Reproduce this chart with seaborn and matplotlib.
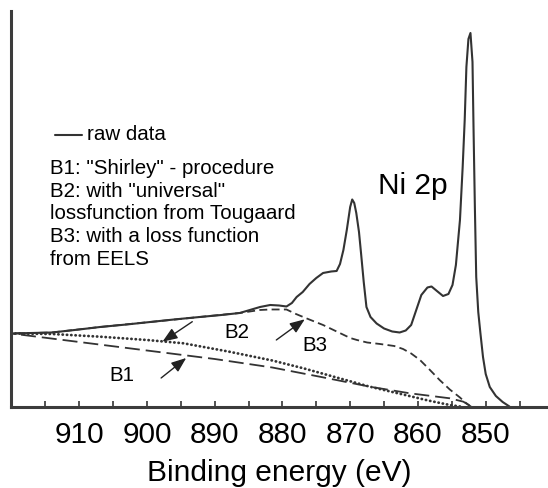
import matplotlib
matplotlib.use("Agg")
import matplotlib.pyplot as plt
import seaborn as sns
import numpy as np
import pandas as pd

# Ni 2p spectrum (binding energy in eV, intensity in arb. units)
raw_e = [920.0, 917.0, 914.0, 910.0, 906.9, 903.0, 899.5, 896.0, 892.2, 889.0,
         886.3, 884.8, 883.3, 881.8, 880.5, 879.4, 878.6, 877.9, 877.0, 876.0,
         875.0, 874.0, 872.8, 872.0, 871.5, 871.0, 870.5, 870.0, 869.7, 869.4,
         869.1, 868.7, 868.4, 868.0, 867.6, 867.0, 866.1, 865.0, 863.8, 862.7,
         861.8, 861.0, 860.3, 859.5, 858.6, 858.0, 857.2, 856.3, 855.5, 854.9,
         854.4, 853.8, 853.4, 853.1, 852.85, 852.55, 852.25, 851.95, 851.8, 851.6,
         851.4, 851.1, 850.8, 850.4, 850.0, 849.4, 848.5, 847.5, 846.5]
raw_i = [73.5, 74, 74.5, 77.5, 80, 82.5, 85, 87.5, 90, 92,
         94, 97, 100, 102, 101.5, 100.5, 104, 110, 115, 123,
         129, 134, 135.5, 136, 143, 157, 177, 200, 207.5, 204,
         194, 175, 154, 125, 100, 90, 83.5, 78.5, 75.5, 74.5,
         76.5, 82, 96, 112, 119.5, 120.5, 116, 111, 113, 122,
         142, 187, 240, 287, 340, 368, 374, 345, 280, 200,
         130, 95, 75, 50, 33, 20, 11, 5, 0.5]

# B1: Shirley background
b1_e = [920.0, 910.0, 900.0, 890.0, 881.5, 874.5, 867.1, 861.2, 855.3, 853.3, 852.4]
b1_i = [73.5, 65, 56.5, 48, 39.5, 30.3, 20.3, 13.7, 8.7, 5.3, 1.5]

# B2: universal loss function (Tougaard)
b2_e = [920.0, 914.0, 906.9, 900.0, 894.6, 888.0, 881.5, 876.9, 872.0, 867.1,
        862.2, 858.5, 855.3, 853.8]
b2_i = [73.5, 73, 70.3, 67, 63.7, 55.5, 46.5, 38.7, 29.5, 20.3,
        12.5, 6.5, 2, 0.5]

# B3: loss function from EELS
b3_e = [920.0, 914.0, 906.9, 899.5, 892.2, 886.3, 883.3, 881.8, 879.4, 878.0,
        876.4, 874.0, 872.0, 870.0, 869.0, 867.5, 865.6, 863.5, 862.2, 861.0,
        859.7, 858.3, 856.8, 855.3, 853.8, 853.0, 852.1]
b3_i = [73.5, 74.5, 80, 85, 90, 94, 97, 97.5, 97.5, 93,
        88.5, 82, 75.5, 69, 67, 64.5, 63, 61, 58, 53.5,
        47, 37.5, 27, 17.5, 9.5, 4.5, 0]

legend_lines = ['B1: "Shirley" - procedure',
                'B2: with "universal"',
                'lossfunction from Tougaard',
                'B3: with a loss function',
                'from EELS']

sns.set_style("white")
plt.rcParams['font.family'] = ['Liberation Sans', 'DejaVu Sans']
plt.rcParams['text.color'] = 'black'
plt.rcParams['axes.labelcolor'] = 'black'
plt.rcParams['xtick.labelcolor'] = 'black'

ink = '#333333'
fig = plt.figure(figsize=(5.48, 4.88), dpi=100)
ax = fig.add_axes([0.0201, 0.166, 0.98, 0.8115])

sns.lineplot(x=b1_e, y=b1_i, ax=ax, color=ink, lw=1.3, errorbar=None,
             linestyle=(0, (8.3, 3.3)))
sns.lineplot(x=b2_e, y=b2_i, ax=ax, color=ink, lw=2.0, errorbar=None,
             linestyle=(0, (0.1, 1.45)), dash_capstyle='round')
sns.lineplot(x=b3_e, y=b3_i, ax=ax, color=ink, lw=1.3, errorbar=None,
             linestyle=(0, (4.4, 2.4)))
sns.lineplot(x=raw_e, y=raw_i, ax=ax, color=ink, lw=1.5, errorbar=None)

ax.set_xlim(920.05, 840.8)
ax.set_ylim(0, 396)
ax.set_yticks([])
ax.set_xticks(np.arange(850, 911, 10))
ax.set_xticks(np.arange(845, 916, 10), minor=True)
ax.tick_params(axis='x', which='both', bottom=True, direction='in', length=4.5,
               width=1.2, color=ink, labelsize=21.5, pad=10)
ax.set_xlabel('Binding energy (eV)', fontsize=21.5, labelpad=7)
for s in ['top', 'right']:
    ax.spines[s].set_visible(False)
for s in ['left', 'bottom']:
    ax.spines[s].set_linewidth(2.2)
    ax.spines[s].set_color('#3c3c3c')

# legend block
ax.plot([913.6, 909.6], [272, 272], color=ink, lw=1.5)
ax.text(908.8, 272, 'raw data', fontsize=14.8, va='center', ha='left')
for k, line in enumerate(legend_lines):
    ax.text(914.3, 233 - 22.75 * k, line, fontsize=14.8, va='baseline', ha='left')

ax.text(860.8, 221, 'Ni 2p', fontsize=21.5, ha='center', va='center')

arrow = dict(arrowstyle='-|>,head_length=0.9,head_width=0.35', color='#222222',
             lw=1, shrinkA=0, shrinkB=0)
ax.annotate('', xy=(897.7, 65.3), xytext=(893.3, 85.3), arrowprops=arrow)
ax.annotate('', xy=(894.2, 49), xytext=(897.9, 29), arrowprops=arrow)
ax.annotate('', xy=(876.7, 87.7), xytext=(880.9, 67), arrowprops=arrow)
ax.text(886.7, 74, 'B2', fontsize=14.8, ha='center', va='center')
ax.text(903.7, 31, 'B1', fontsize=14.8, ha='center', va='center')
ax.text(875.2, 61, 'B3', fontsize=14.8, ha='center', va='center')

fig.savefig('out.png', dpi=100)
